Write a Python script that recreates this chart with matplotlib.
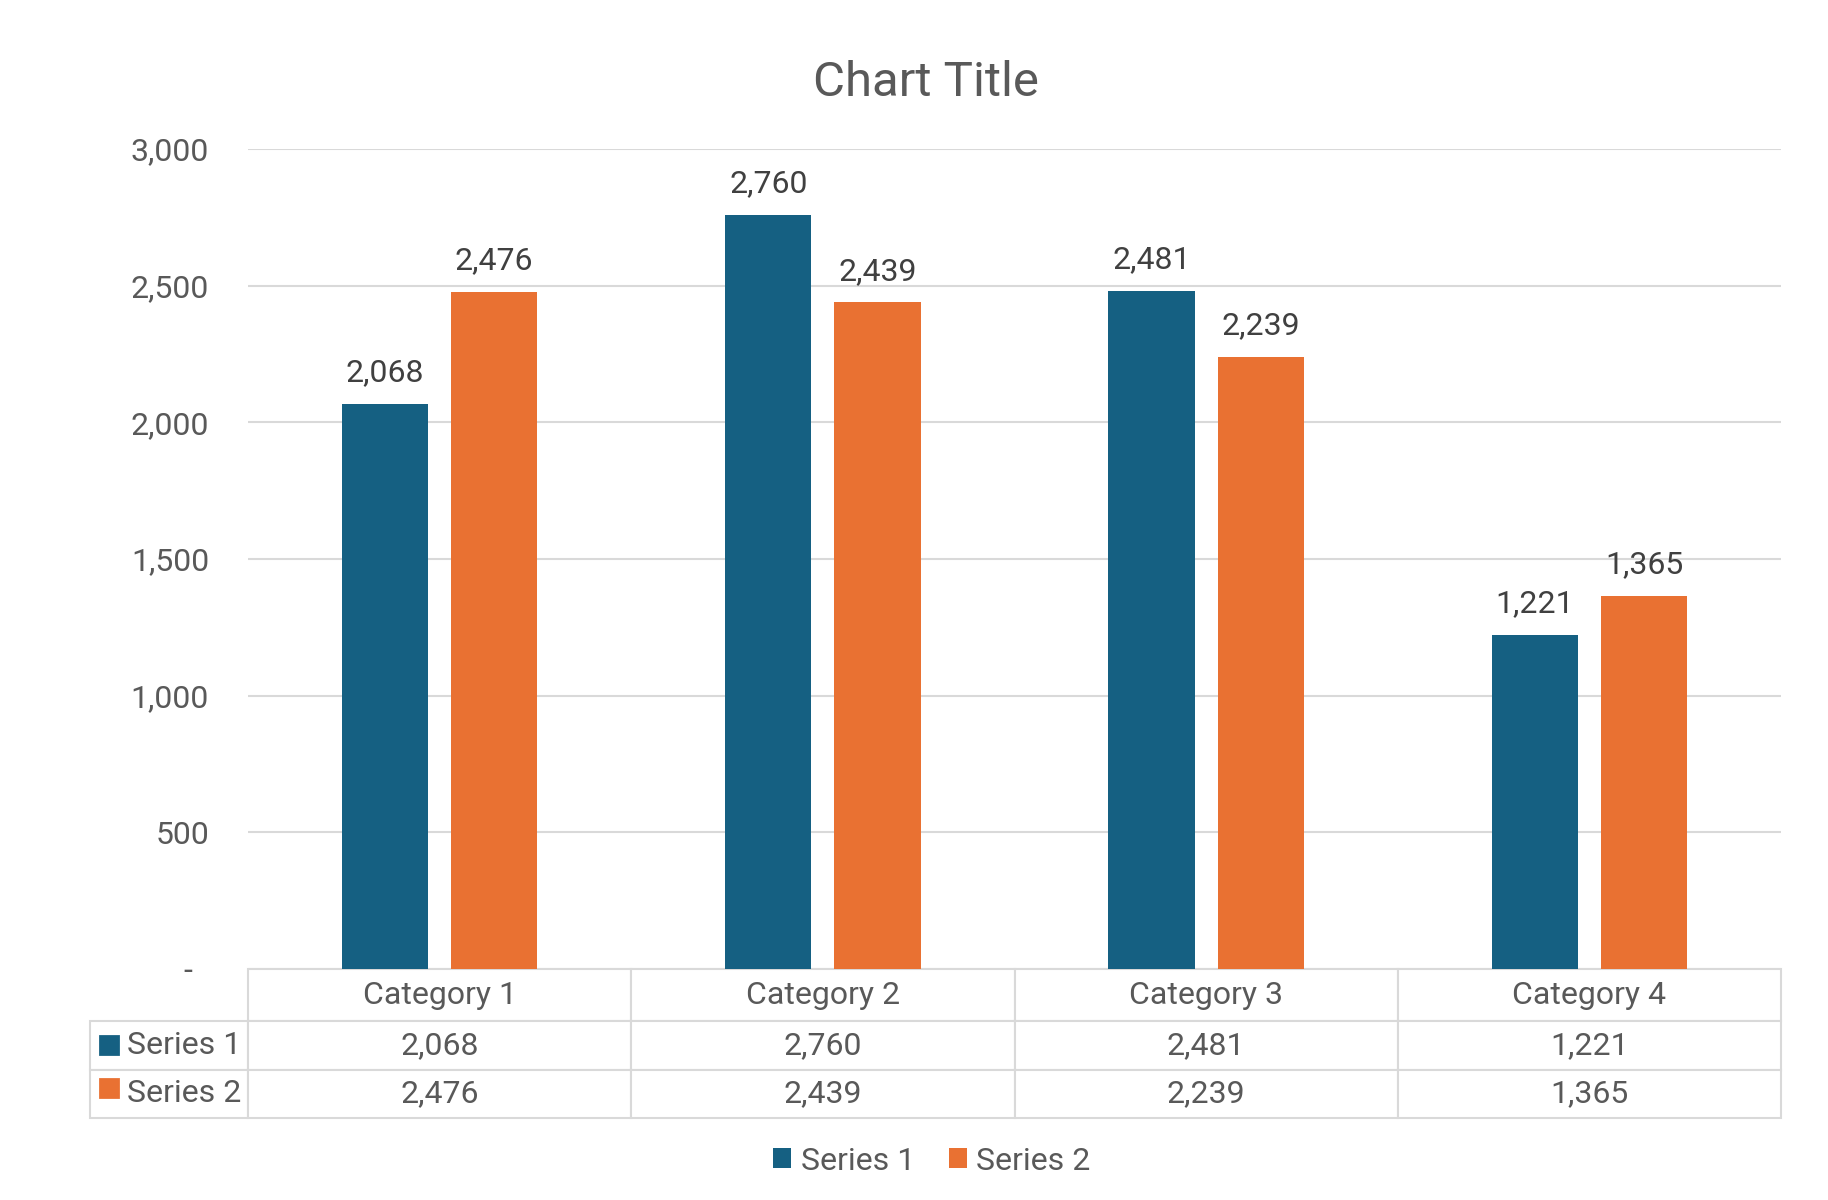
import matplotlib.pyplot as plt
from matplotlib.patches import Rectangle
from matplotlib.ticker import FuncFormatter
import numpy as np

categories = ["Category 1", "Category 2", "Category 3", "Category 4"]
series_names = ["Series 1", "Series 2"]
series1 = [2068, 2760, 2481, 1221]
series2 = [2476, 2439, 2239, 1365]
y_ticks = [0, 500, 1000, 1500, 2000, 2500, 3000]

colors = ["#156082", "#E97132"]
text_color = "#595959"
label_color = "#404040"
grid_color = "#D9D9D9"
fs = 11.5

plt.rcParams['font.family'] = ['Roboto', 'DejaVu Sans']


def fmt_num(v, pos=None):
    if v == 0:
        return "-  "
    return f"{v:,.0f}"


def main():
    fig = plt.figure(figsize=(9.14, 6), dpi=200)
    W, H = 1828, 1200
    left, right, top, bottom = 248, 1781, 149, 969
    ax = fig.add_axes([left / W, 1 - bottom / H, (right - left) / W, (bottom - top) / H])

    x = np.arange(len(categories))
    width = 0.225
    offset = 0.1425
    all_series = [series1, series2]
    bars = []
    for i, vals in enumerate(all_series):
        b = ax.bar(x + (i * 2 - 1) * offset, vals, width, color=colors[i], label=series_names[i], zorder=3)
        ax.bar_label(b, labels=[fmt_num(v) for v in vals], padding=6, fontsize=fs, color=label_color)
        bars.append(b)

    ax.set_xlim(-0.5, len(categories) - 0.5)
    ax.set_ylim(0, 3000)
    ax.set_yticks(y_ticks)
    ax.yaxis.set_major_formatter(FuncFormatter(fmt_num))
    ax.tick_params(axis='y', length=0, pad=14, labelsize=fs, labelcolor=text_color)
    ax.set_xticks([])
    ax.grid(axis='y', color=grid_color, linewidth=0.75, zorder=0)
    for s in ax.spines.values():
        s.set_visible(False)

    # data table under the plot (first column holds the series names)
    tbl_left = 90
    tbl_bottom = 1118
    row_lab_w = (left - tbl_left) / (right - left)
    tbl_h = (tbl_bottom - bottom) / (bottom - top)
    cell_text = [[name] + [fmt_num(v) for v in vals] for name, vals in zip(series_names, all_series)]
    table = ax.table(cellText=cell_text, colLabels=[""] + categories,
                     colWidths=[row_lab_w] + [1 / len(categories)] * len(categories),
                     cellLoc='center', loc='bottom',
                     bbox=[-row_lab_w, -tbl_h, 1 + row_lab_w, tbl_h])
    table.auto_set_font_size(False)
    for (row, col), cell in table.get_celld().items():
        cell.set_edgecolor(grid_color)
        cell.set_linewidth(0.75)
        cell.get_text().set_fontsize(fs)
        cell.get_text().set_color(text_color)
        cell.set_height(52 if row == 0 else 48)
        if col == 0:
            cell.get_text().set_horizontalalignment('left')
            cell._loc = 'left'
            cell.PAD = 0.235
    table[0, 0].set_visible(False)

    # coloured keys in the row label cells
    px_w = right - left
    px_h = bottom - top
    key_y = [1036, 1079]
    for i in range(len(series_names)):
        ax.add_patch(Rectangle(((100 - left) / px_w, -(key_y[i] + 18 - bottom) / px_h),
                               18 / px_w, 18 / px_h, transform=ax.transAxes,
                               color=colors[i], clip_on=False, zorder=5))

    fig.text(926 / W, 1 - 83 / H, "Chart Title", ha='center', va='center', fontsize=17.7, color=text_color)

    fig.legend(handles=bars, labels=series_names, loc='center', bbox_to_anchor=(932 / W, 1 - 1161 / H),
               ncol=2, frameon=False, fontsize=fs, labelcolor=text_color,
               handlelength=0.57, handleheight=0.57, handletextpad=0.3, columnspacing=1.05)

    fig.savefig("out.png", dpi=200, facecolor='white')


if __name__ == "__main__":
    main()
